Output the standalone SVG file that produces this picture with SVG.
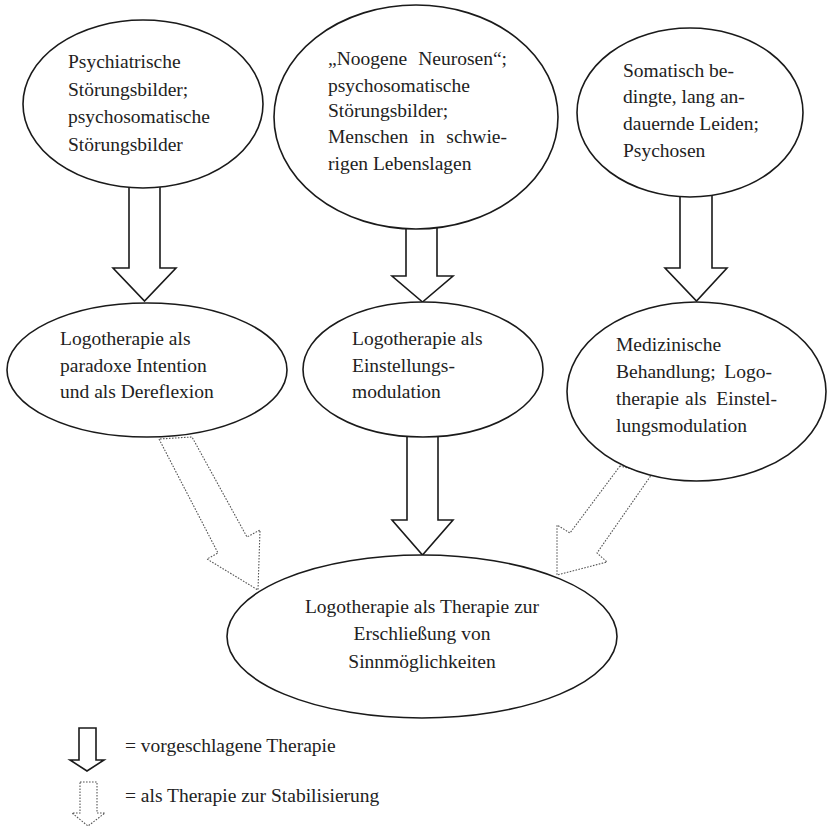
<svg xmlns="http://www.w3.org/2000/svg" width="827" height="827" viewBox="0 0 827 827">
<style>
.bg{fill:#fff}
.node{fill:#fff;stroke:#1a1a1a;stroke-width:1.6}
.solid{fill:#fff;stroke:#1a1a1a;stroke-width:1.6;stroke-linejoin:miter}
.dot{fill:#fff;stroke:#555;stroke-width:1.1;stroke-dasharray:1.6 1.4}
text{font-family:"Liberation Serif","Times New Roman",serif;font-size:19.5px;fill:#222}
.mid{text-anchor:middle}
.end{text-anchor:end}
</style>
<rect class="bg" x="0" y="0" width="827" height="827"/>
<g id="connectors">
  <polygon class="solid" points="129,180 160,180 160,268 176,268 144.5,301 113,268 129,268"/>
  <polygon class="solid" points="406,220 437,220 437,276 453,276 422.5,302 392,276 406,276"/>
  <polygon class="solid" points="680,190 712,190 712,268 727,268 696.5,301 665,268 680,268"/>
  <polygon class="solid" points="407,430 438,430 438,520 453,520 422.5,555 392,520 407,520"/>
  <polygon class="dot" points="159,439 218,553 207,559 258,590 260,530 247,537 192,437"/>
  <polygon class="dot" points="620,466 570,533 557,525 557,575 607,562 597,553 652,474"/>
</g>
<g id="n1">
  <ellipse class="node" cx="143" cy="104" rx="120" ry="84"/>
  <text x="68" y="68">Psychiatrische</text>
  <text x="68" y="96">Störungsbilder;</text>
  <text x="68" y="123">psychosomatische</text>
  <text x="68" y="151">Störungsbilder</text>
</g>
<g id="n2">
  <ellipse class="node" cx="416" cy="117" rx="142" ry="112"/>
  <text y="65"><tspan x="328">„Noogene</tspan><tspan class="end" x="507">Neurosen“;</tspan></text>
  <text x="328" y="92">psychosomatische</text>
  <text x="328" y="117">Störungsbilder;</text>
  <text y="143"><tspan x="328">Menschen</tspan><tspan x="419.5">in</tspan><tspan class="end" x="507">schwie-</tspan></text>
  <text x="328" y="170">rigen Lebenslagen</text>
</g>
<g id="n3">
  <ellipse class="node" cx="690" cy="112.5" rx="113" ry="84.5"/>
  <text x="623" y="77">Somatisch be-</text>
  <text x="623" y="103">dingte, lang an-</text>
  <text x="623" y="130">dauernde Leiden;</text>
  <text x="623" y="157">Psychosen</text>
</g>
<g id="n4">
  <ellipse class="node" cx="147" cy="370" rx="140" ry="67"/>
  <text x="60" y="345">Logotherapie als</text>
  <text x="60" y="372">paradoxe Intention</text>
  <text x="60" y="398">und als Dereflexion</text>
</g>
<g id="n5">
  <ellipse class="node" cx="423" cy="369.5" rx="120" ry="67.5"/>
  <text x="352" y="345">Logotherapie als</text>
  <text x="352" y="372">Einstellungs-</text>
  <text x="352" y="398">modulation</text>
</g>
<g id="n6">
  <ellipse class="node" cx="696.5" cy="391.5" rx="129.5" ry="89.5"/>
  <text x="616" y="351">Medizinische</text>
  <text y="378"><tspan x="616">Behandlung;</tspan><tspan class="end" x="772">Logo-</tspan></text>
  <text y="405"><tspan x="616">therapie</tspan><tspan x="685">als</tspan><tspan class="end" x="777">Einstel-</tspan></text>
  <text x="616" y="432">lungsmodulation</text>
</g>
<g id="n7">
  <ellipse class="node" cx="422" cy="636.5" rx="195" ry="81.5"/>
  <text class="mid" x="422" y="613">Logotherapie als Therapie zur</text>
  <text class="mid" x="422" y="640">Erschließung von</text>
  <text class="mid" x="422" y="668">Sinnmöglichkeiten</text>
</g>
<g id="legend">
  <polygon class="solid" points="79,728 96,728 96,760 104,760 87,771 70,760 79,760"/>
  <text x="125" y="752">= vorgeschlagene Therapie</text>
  <polygon class="dot" points="80,782 97,782 97,813 105,813 88,826 72,813 80,813"/>
  <text x="125" y="802">= als Therapie zur Stabilisierung</text>
</g>
</svg>
